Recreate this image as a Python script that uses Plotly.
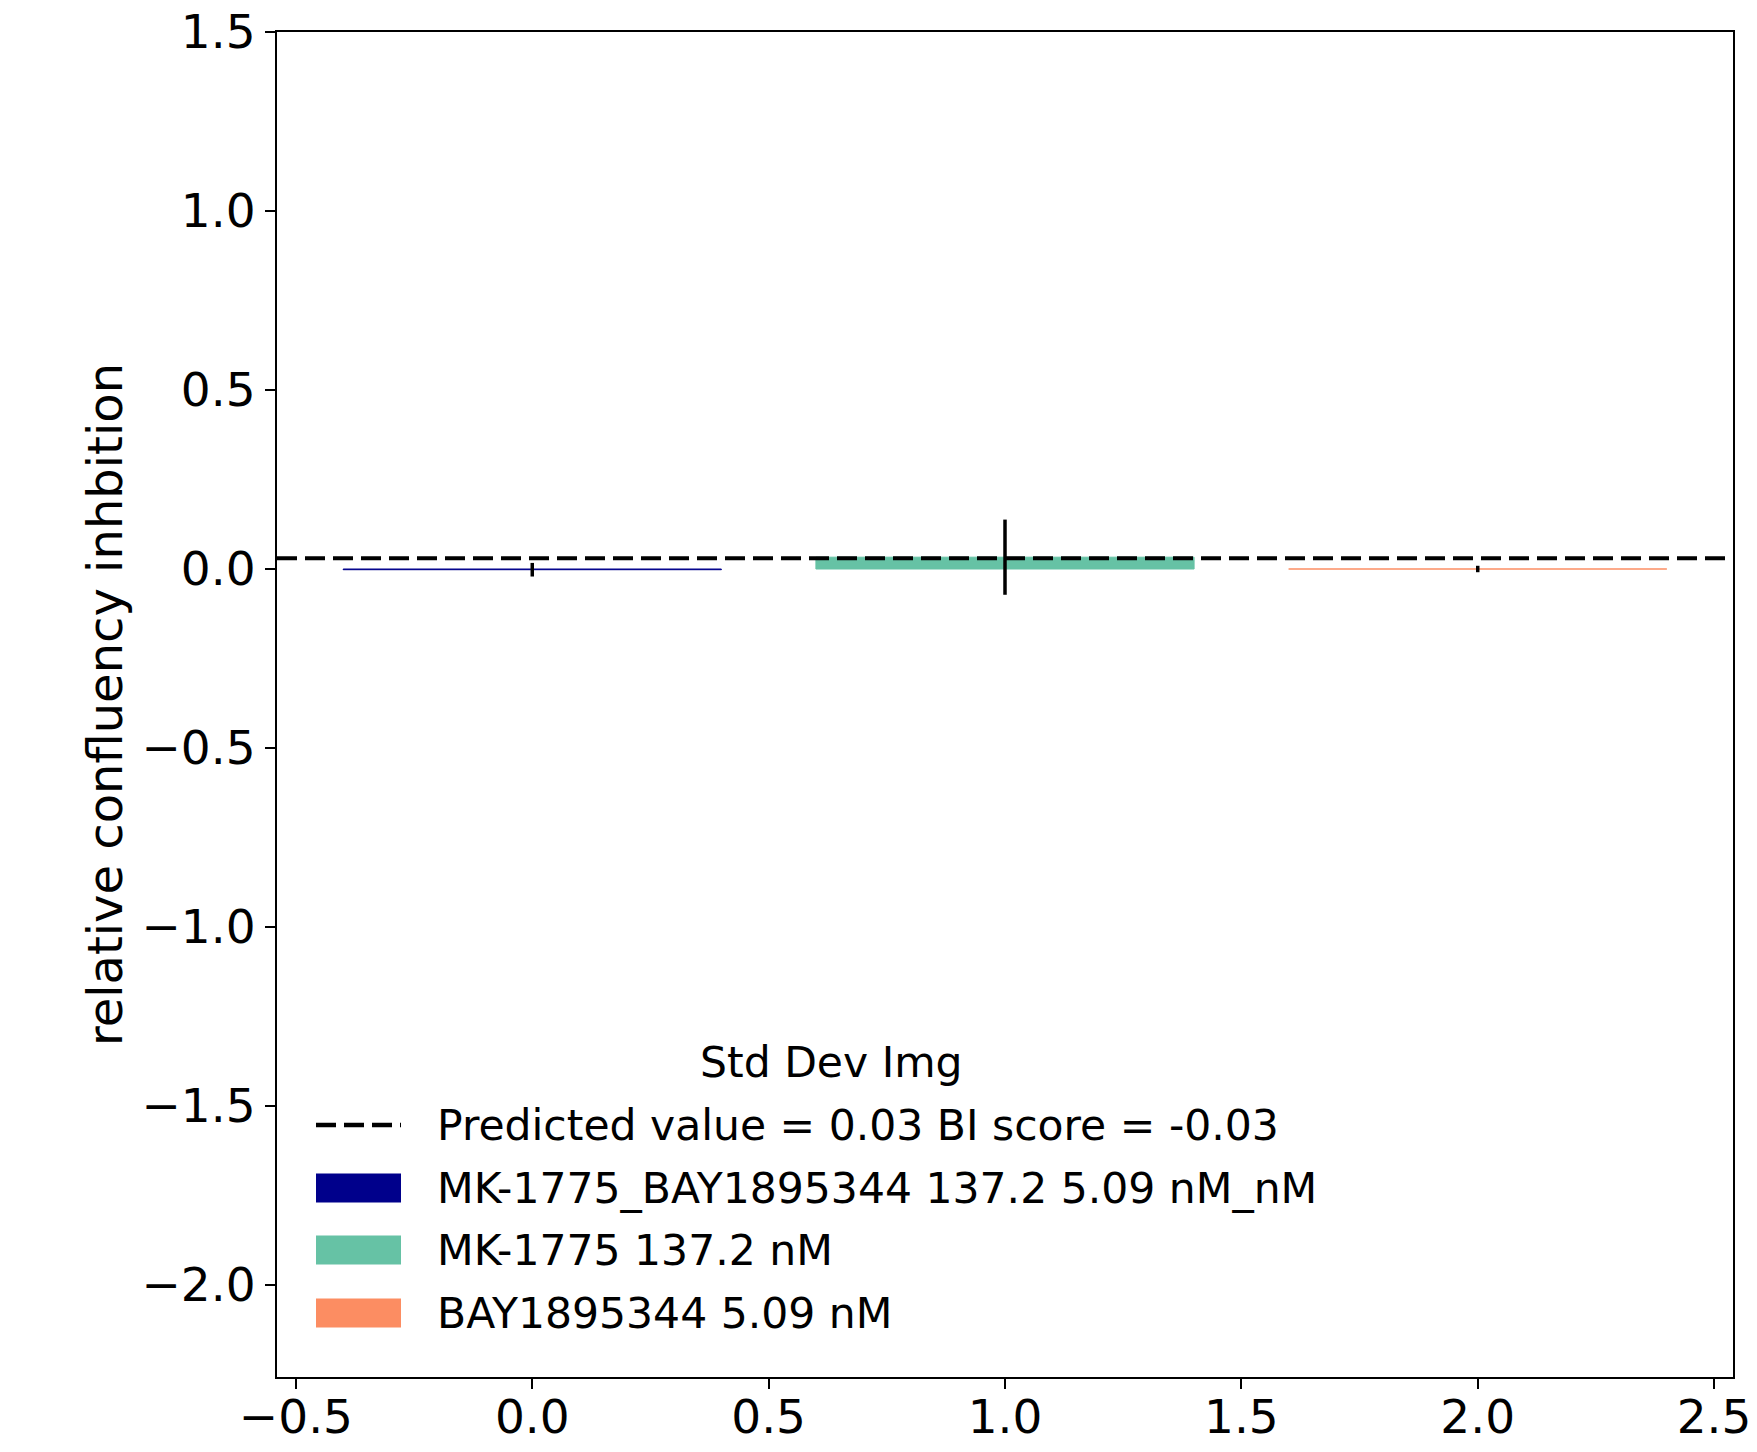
import plotly.graph_objects as go

# data
positions = [0, 1, 2]
labels = ["MK-1775_BAY1895344 137.2 5.09 nM_nM", "MK-1775 137.2 nM", "BAY1895344 5.09 nM"]
values = [-0.002, 0.033, 0.0]
errors = [0.019, 0.105, 0.009]
colors = ["#00008b", "#66c2a5", "#fc8d62"]
predicted_value = 0.03
bi_score = -0.03
legend_title = "Std Dev Img"
x_ticks = [-0.5, 0.0, 0.5, 1.0, 1.5, 2.0, 2.5]
y_ticks = [-2.0, -1.5, -1.0, -0.5, 0.0, 0.5, 1.0, 1.5]

FONT = "DejaVu Sans"
LEG_FONT = 42.5
DASH = "20px,8px"

# figure geometry (page has 8px body margin)
W, H = 1749, 1444
ML, MR, MT, MB = 269, 24, 24, 75
PW, PH = W - ML - MR, H - MT - MB


def px_to_paper_x(px):
    # px in page pixels
    return (px - 8 - ML) / PW


def px_to_paper_y(py):
    return (H - MB - (py - 8)) / PH


fig = go.Figure()

for p, lab, v, e, c in zip(positions, labels, values, errors, colors):
    fig.add_trace(go.Bar(
        x=[p], y=[v], width=0.8, name=lab, showlegend=False,
        marker=dict(color=c, line=dict(color=c, width=1)),
        error_y=dict(type="data", array=[e], visible=True, color="black",
                     thickness=3.5, width=0),
    ))

fig.add_hline(y=predicted_value, line=dict(color="black", width=4, dash=DASH),
              layer="above")

# manual legend (matplotlib-style patches)
legend_entries = [f"Predicted value = {predicted_value} BI score = {bi_score}"] + labels
row_y = [1125, 1188, 1250, 1313]
patch_x0, patch_x1, text_x = 316, 401, 435
patch_h = 29

fig.add_annotation(
    x=px_to_paper_x(831), y=px_to_paper_y(1062), xref="paper", yref="paper",
    text=legend_title, showarrow=False, xanchor="center", yanchor="middle",
    font=dict(family=FONT, size=LEG_FONT, color="black"),
)
for i, (txt, ry) in enumerate(zip(legend_entries, row_y)):
    if i == 0:
        fig.add_shape(type="line", xref="paper", yref="paper",
                      x0=px_to_paper_x(patch_x0), x1=px_to_paper_x(patch_x1),
                      y0=px_to_paper_y(ry), y1=px_to_paper_y(ry),
                      line=dict(color="black", width=4.5, dash=DASH))
    else:
        c = colors[i - 1]
        fig.add_shape(type="rect", xref="paper", yref="paper",
                      x0=px_to_paper_x(patch_x0), x1=px_to_paper_x(patch_x1),
                      y0=px_to_paper_y(ry - patch_h / 2), y1=px_to_paper_y(ry + patch_h / 2),
                      fillcolor=c, line=dict(width=0))
    fig.add_annotation(
        x=px_to_paper_x(text_x), y=px_to_paper_y(ry), xref="paper", yref="paper",
        text=txt, showarrow=False, xanchor="left", yanchor="middle",
        font=dict(family=FONT, size=LEG_FONT, color="black"),
    )

fig.update_layout(
    width=W, height=H,
    margin=dict(l=ML, r=MR, t=MT, b=MB),
    plot_bgcolor="white", paper_bgcolor="white",
    font=dict(family=FONT, size=47, color="black"),
    barmode="overlay",
    showlegend=False,
    xaxis=dict(
        range=[-0.54, 2.54], tickvals=x_ticks, tickformat=".1f", automargin=False,
        showgrid=False, zeroline=False,
        showline=True, linecolor="black", linewidth=2, mirror=True,
        ticks="outside", ticklen=10, tickwidth=2, tickcolor="black",
        tickfont=dict(family=FONT, size=47), ticklabelstandoff=-12,
        ticklabeloverflow="allow",
    ),
    yaxis=dict(
        range=[-2.257, 1.5], tickvals=y_ticks, tickformat=".1f", automargin=False,
        showgrid=False, zeroline=False,
        showline=True, linecolor="black", linewidth=2, mirror=True,
        ticks="outside", ticklen=10, tickwidth=2, tickcolor="black",
        tickfont=dict(family=FONT, size=47), ticklabeloverflow="allow",
        title=dict(text="relative confluency inhbition", font=dict(family=FONT, size=48),
                   standoff=4),
    ),
)

fig.write_html("out.html")
